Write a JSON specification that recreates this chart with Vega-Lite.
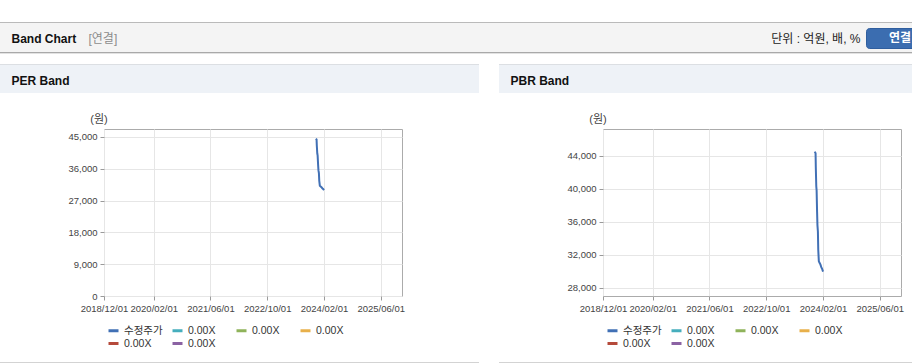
{
  "$schema": "https://vega.github.io/schema/vega-lite/v6.json",
  "background": "white",
  "padding": {"left": 0, "top": 22, "right": 0, "bottom": 0},
  "config": {
    "font": "Liberation Sans, Noto Sans CJK KR",
    "view": {"stroke": null},
    "axis": {"labelFont": "Liberation Sans, Noto Sans CJK KR", "titleFont": "Liberation Sans, Noto Sans CJK KR"},
    "legend": {"labelFont": "Liberation Sans, Noto Sans CJK KR"}
  },
  "datasets": {
    "price": [
      {"date": "2023-11-22", "price": 44500, "s": "수정주가"},
      {"date": "2023-11-29", "price": 44300, "s": "수정주가"},
      {"date": "2023-12-01", "price": 42600, "s": "수정주가"},
      {"date": "2023-12-05", "price": 40300, "s": "수정주가"},
      {"date": "2023-12-08", "price": 39800, "s": "수정주가"},
      {"date": "2023-12-12", "price": 37200, "s": "수정주가"},
      {"date": "2023-12-15", "price": 35600, "s": "수정주가"},
      {"date": "2023-12-19", "price": 34800, "s": "수정주가"},
      {"date": "2023-12-22", "price": 32600, "s": "수정주가"},
      {"date": "2023-12-27", "price": 31200, "s": "수정주가"},
      {"date": "2024-01-03", "price": 31000, "s": "수정주가"},
      {"date": "2024-01-10", "price": 30800, "s": "수정주가"},
      {"date": "2024-01-17", "price": 30500, "s": "수정주가"},
      {"date": "2024-01-24", "price": 30300, "s": "수정주가"},
      {"date": "2024-02-01", "price": 29950, "s": "수정주가"}
    ],
    "header": [{"k": "연결"}]
  },
  "spacing": 10,
  "resolve": {"scale": {"x": "independent", "y": "independent", "color": "independent"}, "axis": {"x": "independent", "y": "independent"}, "legend": {"color": "independent"}},
  "vconcat": [
    {
      "bounds": "flush",
      "spacing": 0,
      "resolve": {"scale": {"x": "independent", "y": "independent", "color": "independent"}, "axis": {"x": "independent", "y": "independent"}, "legend": {"color": "independent"}},
      "vconcat": [
        {"width": 912, "height": 1, "data": {"values": []}, "mark": "point", "view": {"fill": "#bababa", "stroke": null}},
        {
          "width": 912, "height": 29,
          "view": {"fill": "#f4f4f4", "stroke": null},
          "data": {"name": "header"},
          "resolve": {"scale": {"x": "independent"}, "axis": {"x": "independent"}},
          "layer": [
            {
              "mark": {"type": "point", "opacity": 0},
              "encoding": {
                "x": {"field": "k", "type": "nominal", "axis": {"orient": "top", "domain": false, "ticks": false, "labels": false, "grid": false, "minExtent": 0, "maxExtent": 0, "title": "Band Chart", "titleX": 11, "titleY": 15.5, "titleAlign": "left", "titleBaseline": "middle", "titleAngle": 0, "titleFontSize": 12, "titleFontWeight": "bold", "titleColor": "#111111", "titlePadding": 0}},
                "y": {"field": "k", "type": "nominal", "axis": {"orient": "left", "domain": false, "ticks": false, "labels": false, "grid": false, "minExtent": 0, "maxExtent": 0, "title": "[연결]", "titleX": 88, "titleY": 15.5, "titleAlign": "left", "titleBaseline": "middle", "titleAngle": 0, "titleFontSize": 12, "titleFontWeight": "normal", "titleColor": "#8c8c8c", "titlePadding": 0}},
                "color": {"field": "k", "type": "nominal", "scale": {"range": ["#3b6db0"]}, "legend": {"orient": "none", "legendX": 866, "legendY": 5, "title": null, "fillColor": "#3b6db0", "strokeColor": "#2f5e9e", "cornerRadius": 3, "padding": 4, "symbolOpacity": 0, "symbolStrokeWidth": 0, "symbolSize": 100, "labelColor": "white", "labelFontWeight": "bold", "labelFontSize": 12, "labelOffset": 7}}
              }
            },
            {
              "mark": {"type": "point", "opacity": 0},
              "encoding": {
                "x": {"field": "k", "type": "nominal", "axis": {"orient": "bottom", "domain": false, "ticks": false, "labels": false, "grid": false, "minExtent": 0, "maxExtent": 0, "title": "단위 : 억원, 배, %", "titleX": 860, "titleY": -13.5, "titleAlign": "right", "titleBaseline": "middle", "titleAngle": 0, "titleFontSize": 12, "titleFontWeight": "normal", "titleColor": "#222222", "titlePadding": 0}}
              }
            }
          ]
        },
        {"width": 912, "height": 1, "data": {"values": []}, "mark": "point", "view": {"fill": "#a9a9a9", "stroke": null}},
        {"width": 912, "height": 1, "data": {"values": []}, "mark": "point", "view": {"fill": "#e2e2e2", "stroke": null}}
      ]
    },
    {
      "spacing": 20,
      "resolve": {"scale": {"x": "independent", "y": "independent", "color": "independent"}, "axis": {"x": "independent", "y": "independent"}, "legend": {"color": "independent"}},
      "hconcat": [
        {
          "spacing": 19,
          "resolve": {"scale": {"x": "independent", "y": "independent", "color": "independent"}, "axis": {"x": "independent", "y": "independent"}, "legend": {"color": "independent"}},
          "vconcat": [
            {
              "bounds": "flush",
              "spacing": 0,
              "resolve": {"scale": {"x": "independent", "y": "independent", "color": "independent"}, "axis": {"x": "independent", "y": "independent"}, "legend": {"color": "independent"}},
              "vconcat": [
                {"width": 479, "height": 1, "data": {"values": []}, "mark": "point", "view": {"fill": "#dcdfe3", "stroke": null}},
                {
                  "width": 479, "height": 28,
                  "view": {"fill": "#eef2f7", "stroke": null},
                  "data": {"name": "header"},
                  "mark": {"type": "point", "opacity": 0},
                  "encoding": {
                    "x": {"field": "k", "type": "nominal", "axis": {"orient": "top", "domain": false, "ticks": false, "labels": false, "grid": false, "minExtent": 0, "maxExtent": 0, "title": "PER Band", "titleX": 11, "titleY": 15, "titleAlign": "left", "titleBaseline": "middle", "titleAngle": 0, "titleFontSize": 12, "titleFontWeight": "bold", "titleColor": "#111111", "titlePadding": 0}}
                  }
                }
              ]
            },
            {
              "spacing": 11,
              "resolve": {"scale": {"x": "independent", "y": "independent", "color": "independent"}, "axis": {"x": "independent", "y": "independent"}, "legend": {"color": "independent"}},
              "vconcat": [
                {
                  "bounds": "flush",
                  "spacing": 0,
                  "resolve": {"scale": {"x": "independent", "y": "independent", "color": "independent"}, "axis": {"x": "independent", "y": "independent"}, "legend": {"color": "independent"}},
                  "hconcat": [
                    {"width": 104, "height": 167, "data": {"values": []}, "mark": "point"},
                    {
                      "width": 298, "height": 167,
                      "view": {"stroke": "#ababab", "fill": "white"},
                      "data": {"name": "price"},
                      "mark": {"type": "line", "strokeWidth": 2},
                      "encoding": {
                        "x": {"field": "date", "type": "temporal",
                          "scale": {"type": "utc", "domain": [{"year": 2018, "month": 12, "date": 1, "utc": true}, {"year": 2025, "month": 12, "date": 1, "utc": true}]},
                          "axis": {"values": [{"year": 2018, "month": 12, "date": 1, "utc": true}, {"year": 2020, "month": 2, "date": 1, "utc": true}, {"year": 2021, "month": 6, "date": 1, "utc": true}, {"year": 2022, "month": 10, "date": 1, "utc": true}, {"year": 2024, "month": 2, "date": 1, "utc": true}, {"year": 2025, "month": 6, "date": 1, "utc": true}],
                            "format": "%Y/%m/%d", "grid": true, "gridColor": "#e6e6e6", "domain": false, "tickSize": 4, "tickColor": "#9a9a9a", "labelFontSize": 9.5, "labelColor": "#444444", "labelPadding": 3, "labelOverlap": false, "labelFlush": false, "title": null}},
                        "y": {"field": "price", "type": "quantitative",
                          "scale": {"domain": [0, 47250], "nice": false},
                          "axis": {"values": [0, 9000, 18000, 27000, 36000, 45000], "format": ",d", "grid": true, "gridColor": "#e6e6e6", "domain": false, "tickSize": 4, "tickColor": "#9a9a9a", "labelFontSize": 9.5, "labelColor": "#444444", "labelPadding": 3,
                            "title": "(원)", "titleX": -5.5, "titleY": -10, "titleAlign": "center", "titleBaseline": "middle", "titleAngle": 0, "titleFontSize": 11, "titleFontWeight": "normal", "titleColor": "#444444"}},
                        "color": {"field": "s", "type": "nominal",
                          "scale": {"domain": ["수정주가", "b1", "b2", "b3", "b4", "b5"], "range": ["#4170b5", "#46aebd", "#8fb35a", "#e8b04b", "#b54a3b", "#8b62a3"]},
                          "legend": {"orient": "none", "legendX": 3, "legendY": 195, "direction": "horizontal", "columns": 4, "symbolType": "stroke", "symbolSize": 100, "symbolStrokeWidth": 3, "labelFontSize": 10.5, "labelColor": "#333333", "labelOffset": 4, "columnPadding": 3, "rowPadding": 0, "padding": 0, "title": null, "gridAlign": "all",
                            "labelExpr": "datum.value == '수정주가' ? '수정주가' : '0.00X'"}}
                      }
                    }
                  ]
                },
                {"width": 479, "height": 1, "data": {"values": []}, "mark": "point", "view": {"fill": "#d3d3d3", "stroke": null}}
              ]
            }
          ]
        },
        {
          "spacing": 19,
          "resolve": {"scale": {"x": "independent", "y": "independent", "color": "independent"}, "axis": {"x": "independent", "y": "independent"}, "legend": {"color": "independent"}},
          "vconcat": [
            {
              "bounds": "flush",
              "spacing": 0,
              "resolve": {"scale": {"x": "independent", "y": "independent", "color": "independent"}, "axis": {"x": "independent", "y": "independent"}, "legend": {"color": "independent"}},
              "vconcat": [
                {"width": 413, "height": 1, "data": {"values": []}, "mark": "point", "view": {"fill": "#dcdfe3", "stroke": null}},
                {
                  "width": 413, "height": 28,
                  "view": {"fill": "#eef2f7", "stroke": null},
                  "data": {"name": "header"},
                  "mark": {"type": "point", "opacity": 0},
                  "encoding": {
                    "x": {"field": "k", "type": "nominal", "axis": {"orient": "top", "domain": false, "ticks": false, "labels": false, "grid": false, "minExtent": 0, "maxExtent": 0, "title": "PBR Band", "titleX": 11, "titleY": 15, "titleAlign": "left", "titleBaseline": "middle", "titleAngle": 0, "titleFontSize": 12, "titleFontWeight": "bold", "titleColor": "#111111", "titlePadding": 0}}
                  }
                }
              ]
            },
            {
              "spacing": 11,
              "resolve": {"scale": {"x": "independent", "y": "independent", "color": "independent"}, "axis": {"x": "independent", "y": "independent"}, "legend": {"color": "independent"}},
              "vconcat": [
                {
                  "bounds": "flush",
                  "spacing": 0,
                  "resolve": {"scale": {"x": "independent", "y": "independent", "color": "independent"}, "axis": {"x": "independent", "y": "independent"}, "legend": {"color": "independent"}},
                  "hconcat": [
                    {"width": 104, "height": 167, "data": {"values": []}, "mark": "point"},
                    {
                      "width": 298, "height": 167,
                      "view": {"stroke": "#ababab", "fill": "white"},
                      "data": {"name": "price"},
                      "mark": {"type": "line", "strokeWidth": 2},
                      "encoding": {
                        "x": {"field": "date", "type": "temporal",
                          "scale": {"type": "utc", "domain": [{"year": 2018, "month": 12, "date": 1, "utc": true}, {"year": 2025, "month": 12, "date": 1, "utc": true}]},
                          "axis": {"values": [{"year": 2018, "month": 12, "date": 1, "utc": true}, {"year": 2020, "month": 2, "date": 1, "utc": true}, {"year": 2021, "month": 6, "date": 1, "utc": true}, {"year": 2022, "month": 10, "date": 1, "utc": true}, {"year": 2024, "month": 2, "date": 1, "utc": true}, {"year": 2025, "month": 6, "date": 1, "utc": true}],
                            "format": "%Y/%m/%d", "grid": true, "gridColor": "#e6e6e6", "domain": false, "tickSize": 4, "tickColor": "#9a9a9a", "labelFontSize": 9.5, "labelColor": "#444444", "labelPadding": 3, "labelOverlap": false, "labelFlush": false, "title": null}},
                        "y": {"field": "price", "type": "quantitative",
                          "scale": {"domain": [27000, 47250], "nice": false, "zero": false},
                          "axis": {"values": [28000, 32000, 36000, 40000, 44000], "format": ",d", "grid": true, "gridColor": "#e6e6e6", "domain": false, "tickSize": 4, "tickColor": "#9a9a9a", "labelFontSize": 9.5, "labelColor": "#444444", "labelPadding": 3,
                            "title": "(원)", "titleX": -5.5, "titleY": -10, "titleAlign": "center", "titleBaseline": "middle", "titleAngle": 0, "titleFontSize": 11, "titleFontWeight": "normal", "titleColor": "#444444"}},
                        "color": {"field": "s", "type": "nominal",
                          "scale": {"domain": ["수정주가", "b1", "b2", "b3", "b4", "b5"], "range": ["#4170b5", "#46aebd", "#8fb35a", "#e8b04b", "#b54a3b", "#8b62a3"]},
                          "legend": {"orient": "none", "legendX": 3, "legendY": 195, "direction": "horizontal", "columns": 4, "symbolType": "stroke", "symbolSize": 100, "symbolStrokeWidth": 3, "labelFontSize": 10.5, "labelColor": "#333333", "labelOffset": 4, "columnPadding": 3, "rowPadding": 0, "padding": 0, "title": null, "gridAlign": "all",
                            "labelExpr": "datum.value == '수정주가' ? '수정주가' : '0.00X'"}}
                      }
                    }
                  ]
                },
                {"width": 413, "height": 1, "data": {"values": []}, "mark": "point", "view": {"fill": "#d3d3d3", "stroke": null}}
              ]
            }
          ]
        }
      ]
    }
  ]
}
